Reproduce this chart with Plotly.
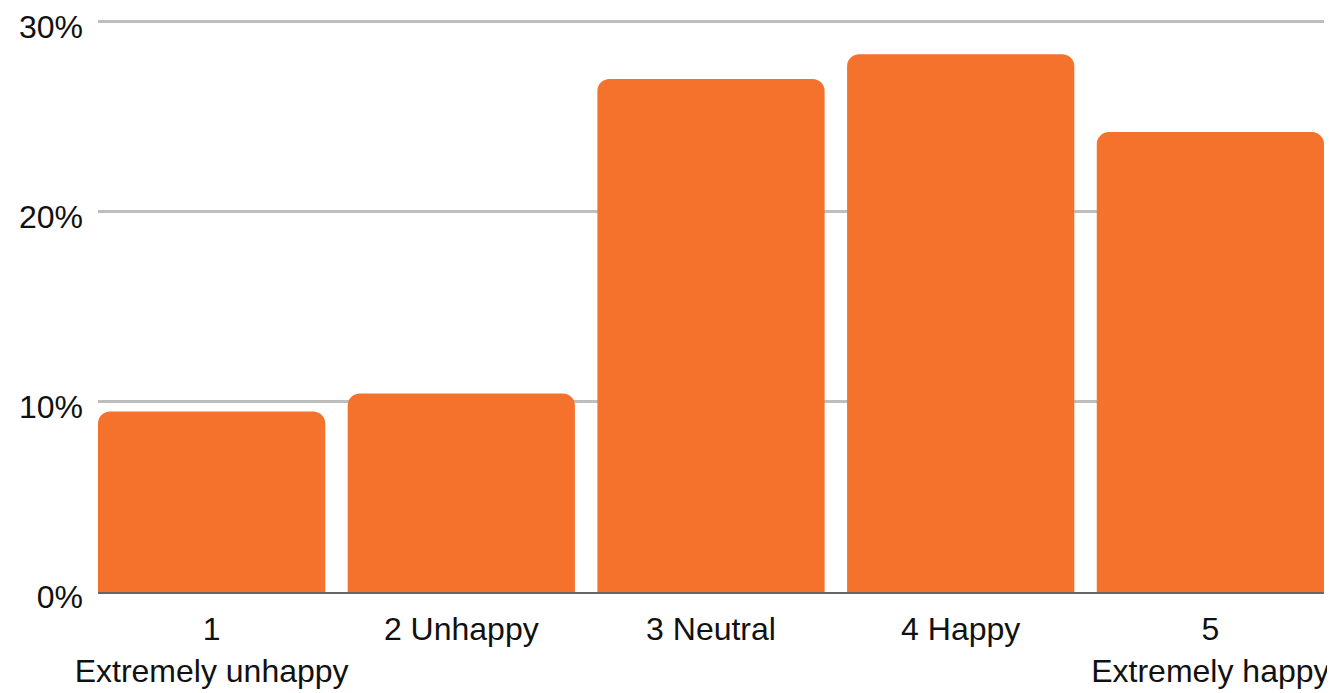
import plotly.graph_objects as go

categories = ["1<br>Extremely unhappy", "2 Unhappy", "3 Neutral", "4 Happy", "5<br>Extremely happy"]
values = [9.5, 10.45, 27.0, 28.3, 24.2]
y_ticks = [0, 10, 20, 30]
y_tick_labels = ["0%", "10%", "20%", "30%"]

bargap = 0.09
font_family = "Liberation Sans, Arial, Helvetica, sans-serif"

fig = go.Figure(go.Bar(
    x=categories,
    y=values,
    marker=dict(color="#F5722C", cornerradius=12, line=dict(width=0)),
    hoverinfo="skip",
))

# page body has an 8px default margin; size the figure to compensate
fig.update_layout(
    width=1327, height=685,
    margin=dict(l=90, r=11, t=12, b=101, autoexpand=False),
    paper_bgcolor="white", plot_bgcolor="white",
    bargap=bargap,
    showlegend=False,
    font=dict(family=font_family, size=32, color="#111111"),
)
fig.update_xaxes(
    type="category", automargin=False,
    range=[-0.5 + bargap / 2, 4.5 - bargap / 2],
    showgrid=False, showline=True, linecolor="#666666", linewidth=2,
    ticks="", tickfont=dict(size=32), ticklabelstandoff=8,
)
fig.update_yaxes(
    automargin=False,
    range=[0, 30.1], tickmode="array", tickvals=y_ticks, ticktext=y_tick_labels,
    showgrid=True, gridcolor="#BEBEBE", gridwidth=2.5,
    zeroline=False, showline=False, ticks="",
    ticklabelstandoff=14, ticklabelshift=5, tickfont=dict(size=32),
)

fig.write_html("out.html")
